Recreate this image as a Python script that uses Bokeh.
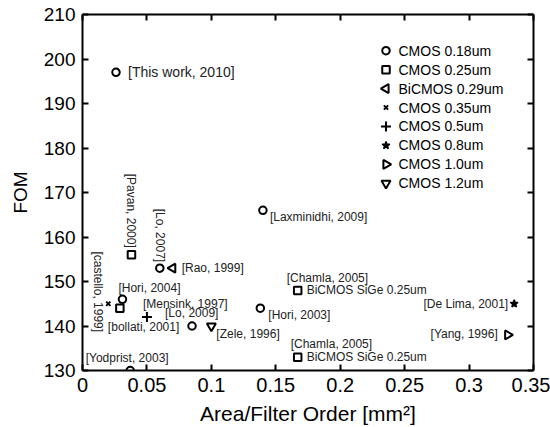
import math
from bokeh.plotting import figure
from bokeh.models import LinearAxis, FixedTicker, Range1d
from bokeh.core.properties import value
from bokeh.embed import file_html
from bokeh.resources import INLINE

# ---------------- data ----------------
x_ticks = [0, 0.05, 0.1, 0.15, 0.2, 0.25, 0.3, 0.35]
x_tick_labels = ["0", "0.05", "0.1", "0.15", "0.2", "0.25", "0.3", "0.35"]
y_ticks = [130, 140, 150, 160, 170, 180, 190, 200, 210]

series_names = ["CMOS 0.18um", "CMOS 0.25um", "BiCMOS 0.29um", "CMOS 0.35um",
                "CMOS 0.5um", "CMOS 0.8um", "CMOS 1.0um", "CMOS 1.2um"]

refs = ["[This work, 2010]", "[Laxminidhi, 2009]", "[Lo, 2007]", "[Hori, 2004]",
        "[Lo, 2009]", "[Yodprist, 2003]", "[Hori, 2003]",
        "[Pavan, 2000]", "[bollati, 2001]", "[Chamla, 2005]", "[Chamla, 2005]",
        "[Rao, 1999]", "[castello, 1999]", "[Mensink, 1997]",
        "[De Lima, 2001]", "[Yang, 1996]", "[Zele, 1996]"]
area = [0.026, 0.140, 0.060, 0.031, 0.085, 0.037, 0.138,
        0.038, 0.029, 0.167, 0.167,
        0.070, 0.020, 0.050,
        0.335, 0.330, 0.100]
fom = [197, 166, 153, 146, 140, 130, 144,
       156, 144, 148, 133,
       153, 145, 142,
       145, 138, 140]
tech = [0, 0, 0, 0, 0, 0, 0,
        1, 1, 1, 1,
        2, 3, 4,
        5, 6, 7]
notes = {9: "BiCMOS SiGe 0.25um", 10: "BiCMOS SiGe 0.25um"}

# ---------------- layout / style ----------------
FONT = "Liberation Sans"
W, H = 550, 427
ML, MR, MT, MB = 82, 17, 14, 56
FW, FH = W - ML - MR, H - MT - MB

marker_style = [
    dict(marker="circle", size=7.5, angle=0.0),
    dict(marker="square", size=7.5, angle=0.0),
    dict(marker="triangle", size=9, angle=math.pi / 2),
    dict(marker="x", size=6, angle=0.0),
    dict(marker="cross", size=10, angle=0.0),
    dict(marker="star", size=8, angle=0.0),
    dict(marker="triangle", size=9, angle=-math.pi / 2),
    dict(marker="inverted_triangle", size=9, angle=0.0),
]
# dx, dy (screen px), angle, align, font size
label_layout = [
    (12, 0, 0, "left", 14),
    (7, 7, 0, "left", 12),
    (0, -6, -math.pi / 2, "right", 12),
    (-4, -11, 0, "left", 12),
    (-27, -13, 0, "left", 12),
    (-3, -13, 0, "center", 12),
    (8, 7, 0, "left", 12),
    (0, -7, -math.pi / 2, "right", 12),
    (-12, 19, 0, "left", 12),
    (-11, -12, 0, "left", 12),
    (-7, -13, 0, "left", 12),
    (9, 0, 0, "left", 12),
    (-10, -12, -math.pi / 2, "center", 12),
    (-4, -13, 0, "left", 12),
    (-6, 0, 0, "right", 12),
    (-10, -1, 0, "right", 12),
    (5, 8, 0, "left", 12),
]
# legend placement in frame pixels (from top-left of the frame)
LEG_X, LEG_Y, LEG_DY, LEG_TX = 303.5, 36.3, 19.0, 316

p = figure(width=W, height=H, output_backend="svg", toolbar_location=None,
           x_range=Range1d(0, 0.35), y_range=Range1d(130, 210),
           min_border_left=ML, min_border_right=MR, min_border_top=MT, min_border_bottom=MB)
p.extra_x_ranges = {"px": Range1d(0, FW)}
p.extra_y_ranges = {"px": Range1d(FH, 0)}
p.grid.visible = False
p.outline_line_color = None
p.background_fill_color = "white"
p.border_fill_color = "white"

def style_axis(ax, labels=True, size="19px"):
    ax.axis_line_color = "black"
    ax.axis_line_width = 2
    ax.major_tick_line_color = "black"
    ax.major_tick_line_width = 2
    ax.major_tick_in = 6
    ax.major_tick_out = 0
    ax.minor_tick_line_color = None
    ax.major_label_text_font = FONT
    ax.major_label_text_color = "black"
    ax.major_label_text_font_size = size
    ax.major_label_standoff = 7 if labels else 0

xax = p.xaxis[0]
yax = p.yaxis[0]
xax.ticker = FixedTicker(ticks=x_ticks)
xax.major_label_overrides = {t: l for t, l in zip(x_ticks, x_tick_labels)}
yax.ticker = FixedTicker(ticks=y_ticks)
style_axis(xax, size="20px")
style_axis(yax, size="19px")
xax.axis_label = "Area/Filter Order [mm\u00b2]"
yax.axis_label = "FOM"
for ax, so, fs in ((xax, 7, "21px"), (yax, 10, "19px")):
    ax.axis_label_text_font = FONT
    ax.axis_label_text_font_size = fs
    ax.axis_label_text_font_style = "normal"
    ax.axis_label_text_color = "black"
    ax.axis_label_standoff = so

top = LinearAxis(ticker=FixedTicker(ticks=x_ticks),
                 major_label_overrides={t: "" for t in x_ticks})
right = LinearAxis(ticker=FixedTicker(ticks=y_ticks),
                   major_label_overrides={t: "" for t in y_ticks})
style_axis(top, False)
style_axis(right, False)
p.add_layout(top, "above")
p.add_layout(right, "right")

# markers per series (plot + hand-made legend)
for s, name in enumerate(series_names):
    xs = [a for a, t in zip(area, tech) if t == s]
    ys = [f for f, t in zip(fom, tech) if t == s]
    st = marker_style[s]
    fill = "black" if st["marker"] == "star" else None
    lw = 1.5 if st["marker"] == "star" else 2
    p.scatter(xs, ys, marker=st["marker"], size=st["size"], angle=st["angle"],
              line_color="black", line_width=lw, fill_color=fill)
    ly = LEG_Y + LEG_DY * s
    p.scatter([LEG_X], [ly], marker=st["marker"], size=st["size"], angle=st["angle"],
              line_color="black", line_width=lw, fill_color=fill,
              x_range_name="px", y_range_name="px")
    p.text([LEG_TX], [ly], text=[name], text_align="left", text_baseline="middle",
           text_font=value(FONT), text_font_size="14px", text_color="black",
           x_range_name="px", y_range_name="px")

# reference labels
for i, txt in enumerate(refs):
    dx, dy, ang, al, fs = label_layout[i]
    p.text([area[i]], [fom[i]], text=[txt], x_offset=dx, y_offset=dy, angle=ang,
           text_align=al, text_baseline="middle", text_font=value(FONT),
           text_font_size=f"{fs}px", text_color="#222222")
for i, txt in notes.items():
    p.text([area[i]], [fom[i]], text=[txt], x_offset=9, y_offset=0,
           text_align="left", text_baseline="middle", text_font=value(FONT),
           text_font_size="12px", text_color="#222222")

open("out.html", "w").write(file_html(p, INLINE))
